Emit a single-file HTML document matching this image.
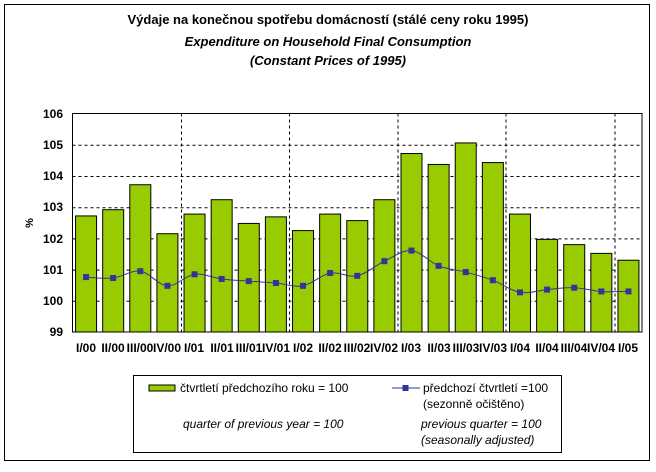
<!DOCTYPE html>
<html><head><meta charset="utf-8"><style>
html,body{margin:0;padding:0;background:#fff;}
svg text{font-family:"Liberation Sans",Arial,sans-serif;}
</style></head><body>
<svg id="s" width="656" height="467" viewBox="0 0 656 467" xmlns="http://www.w3.org/2000/svg">
<rect x="0" y="0" width="656" height="467" fill="#fff"/>
<rect x="4.5" y="4.5" width="645" height="456" fill="#fff" stroke="#000" stroke-width="1"/>
<g font-weight="bold" font-size="13" text-anchor="middle" fill="#000">
<text x="328" y="24">Výdaje na konečnou spotřebu domácností (stálé ceny roku 1995)</text>
<text x="328" y="46" font-style="italic">Expenditure on Household Final Consumption</text>
<text x="328" y="65" font-style="italic">(Constant Prices of 1995)</text>
</g>
<g id="grid"></g>
<g id="bars"></g>
<g id="line"></g>
<rect x="72.5" y="113.5" width="569.5" height="218.5" fill="none" stroke="#000" stroke-width="1"/>
<g font-weight="bold" font-size="12" text-anchor="end" fill="#000">
<text x="63" y="118">106</text><text x="63" y="149">105</text><text x="63" y="180">104</text>
<text x="63" y="211">103</text><text x="63" y="243">102</text><text x="63" y="274">101</text>
<text x="63" y="305">100</text><text x="63" y="336">99</text>
</g>
<text x="0" y="0" font-size="11" font-weight="bold" transform="translate(33,223) rotate(-90)" text-anchor="middle">%</text>
<g font-weight="bold" font-size="12" text-anchor="middle" fill="#000">
<text x="86" y="352">I/00</text><text x="113" y="352">II/00</text><text x="140" y="352">III/00</text><text x="167" y="352">IV/00</text>
<text x="194" y="352">I/01</text><text x="222" y="352">II/01</text><text x="249" y="352">III/01</text><text x="276" y="352">IV/01</text>
<text x="303" y="352">I/02</text><text x="330" y="352">II/02</text><text x="357" y="352">III/02</text><text x="384" y="352">IV/02</text>
<text x="411" y="352">I/03</text><text x="439" y="352">II/03</text><text x="466" y="352">III/03</text><text x="493" y="352">IV/03</text>
<text x="520" y="352">I/04</text><text x="547" y="352">II/04</text><text x="574" y="352">III/04</text><text x="601" y="352">IV/04</text>
<text x="628" y="352">I/05</text>
</g>
<rect x="133.5" y="375.5" width="428" height="77" fill="#fff" stroke="#000"/>
<rect x="149" y="385" width="26" height="6" fill="#99cc00" stroke="#000"/>
<g font-size="12" fill="#000">
<text x="180" y="392">čtvrtletí předchozího roku = 100</text>
<text x="423" y="392">předchozí čtvrtletí =100</text>
<text x="423" y="408">(sezonně očištěno)</text>
<g font-style="italic">
<text x="183" y="428">quarter of previous year = 100</text>
<text x="421" y="428">previous quarter = 100</text>
<text x="421" y="444">(seasonally adjusted)</text>
</g>
</g>
<line x1="392" y1="388" x2="420" y2="388" stroke="#333399" stroke-width="1"/>
<rect x="402.5" y="385" width="6" height="6" fill="#333399"/>
</svg>
<script>
var ns="http://www.w3.org/2000/svg";
function el(p,t,a){var e=document.createElementNS(ns,t);for(var k in a)e.setAttribute(k,a[k]);document.getElementById(p).appendChild(e);return e;}
function Y(v){return 332-(v-99)*31.2;}
var b=[102.72,102.92,103.72,102.15,102.78,103.24,102.48,102.69,102.25,102.78,102.57,103.24,104.72,104.37,105.06,104.43,102.78,101.97,101.8,101.52,101.3];
var l=[100.76,100.73,100.95,100.48,100.85,100.70,100.63,100.57,100.48,100.89,100.80,101.27,101.61,101.12,100.92,100.66,100.27,100.36,100.42,100.30,100.30];
for(var v=100;v<=105;v++){el("grid","line",{x1:72.5,x2:642,y1:Y(v)+0.5,y2:Y(v)+0.5,stroke:"#000","stroke-dasharray":"3,3","stroke-width":1});}
[181.5,289.5,398,506,615].forEach(function(x){el("grid","line",{x1:x,x2:x,y1:113.5,y2:332,stroke:"#000","stroke-dasharray":"3,3","stroke-width":1});});
var pts=[];
for(var i=0;i<21;i++){var c=72.5+27.12*(i+0.5);
el("bars","rect",{x:c-10.5,y:Y(b[i]),width:21,height:332-Y(b[i]),fill:"#99cc00",stroke:"#000","stroke-width":1});
pts.push([c,Y(l[i])]);}
var d="M"+pts[0][0]+","+pts[0][1];
for(var i=0;i<20;i++){var p0=pts[Math.max(i-1,0)],p1=pts[i],p2=pts[i+1],p3=pts[Math.min(i+2,20)];
d+=" C"+(p1[0]+(p2[0]-p0[0])/6)+","+(p1[1]+(p2[1]-p0[1])/6)+" "+(p2[0]-(p3[0]-p1[0])/6)+","+(p2[1]-(p3[1]-p1[1])/6)+" "+p2[0]+","+p2[1];}
el("line","path",{d:d,fill:"none",stroke:"#333399","stroke-width":1});
pts.forEach(function(p){el("line","rect",{x:p[0]-3,y:p[1]-3,width:6,height:6,fill:"#333399"});});
</script>
</body></html>
